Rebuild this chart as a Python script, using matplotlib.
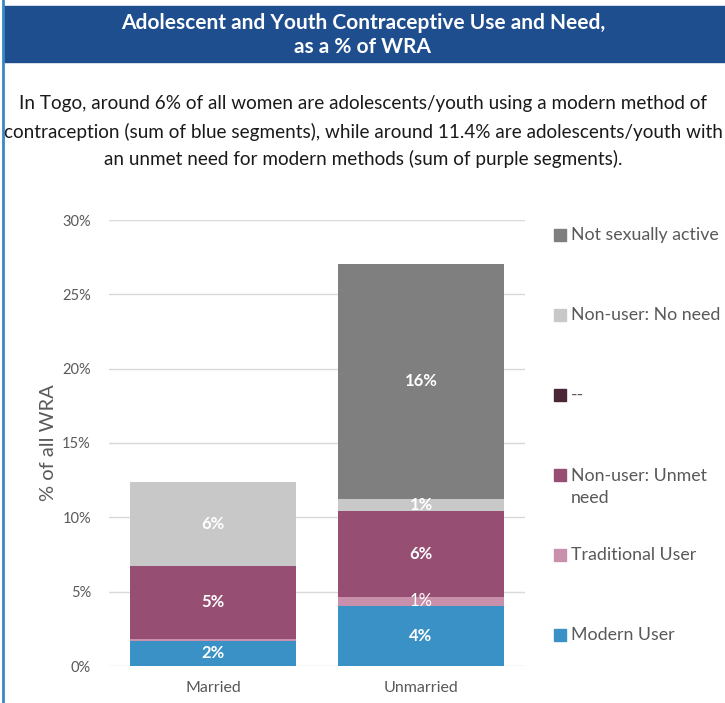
import matplotlib.pyplot as plt
from matplotlib.patches import Rectangle
import numpy as np

plt.rcParams['font.family'] = ['Lato', 'DejaVu Sans']

# Data (% of all WRA)
groups = ["Married", "Unmarried"]
modern_user = [1.7, 4.05]
traditional_user = [0.1, 0.6]
unmet_need = [4.95, 5.75]
dash_series = [0.0, 0.0]
no_need = [5.6, 0.85]
not_active = [0.0, 15.8]

series_names = ["Modern User", "Traditional User", "Non-user: Unmet\nneed", "--",
                "Non-user: No need", "Not sexually active"]
series_values = [modern_user, traditional_user, unmet_need, dash_series, no_need, not_active]
series_colors = ["#3A91C6", "#C890AA", "#964F72", "#4B2639", "#C8C8C8", "#7F7F7F"]
# labels shown in the bars
label_text = [["2%", "4%"], ["", "1%"], ["5%", "6%"], ["", ""], ["6%", "1%"], ["", "16%"]]
label_bold = [True, False, True, False, True, True]

W, H = 725, 703
fig = plt.figure(figsize=(W / 100, H / 100), dpi=100)

# header band and left border
fig.patches.append(Rectangle((3 / W, 1 - 62 / H), 1, 56 / H, transform=fig.transFigure,
                             color="#1F4E8F", zorder=0))
fig.add_artist(plt.Line2D([2.5 / W, 2.5 / W], [0, 1], color="#3A87C6", lw=2))
fig.text(363 / W, 1 - 23 / H, "Adolescent and Youth Contraceptive Use and Need,",
         ha="center", va="center", color="white", fontsize=15, fontweight="bold")
fig.text(363 / W, 1 - 47 / H, "as a % of WRA",
         ha="center", va="center", color="white", fontsize=15, fontweight="bold")

subtitle = ["In Togo, around 6% of all women are adolescents/youth using a modern method of",
            "contraception (sum of blue segments), while around 11.4% are adolescents/youth with",
            "an unmet need for modern methods (sum of purple segments)."]
for i, line in enumerate(subtitle):
    fig.text(363 / W, 1 - (104 + 27.5 * i) / H, line, ha="center", va="center",
             color="#1a1a1a", fontsize=13.6)

ax = fig.add_axes([109 / W, 37 / H, 416 / W, 446 / H])
x = np.arange(len(groups))
bottom = np.zeros(len(groups))
for vals, col, labs, bold in zip(series_values, series_colors, label_text, label_bold):
    vals = np.array(vals)
    ax.bar(x, vals, 0.8, bottom=bottom, color=col, zorder=3)
    for xi, v, b, t in zip(x, vals, bottom, labs):
        if t:
            ax.text(xi, b + v / 2, t, ha="center", va="center", color="white",
                    fontsize=12, fontweight="bold" if bold else "normal", zorder=4)
    bottom += vals

ax.set_xlim(-0.5, 1.5)
ax.set_ylim(0, 30)
ax.set_yticks(range(0, 31, 5))
ax.set_yticklabels([f"{v}%" for v in range(0, 31, 5)])
ax.set_xticks(x)
ax.set_xticklabels(groups)
ax.grid(axis="y", color="#D9D9D9", lw=1, zorder=0)
for s in ax.spines.values():
    s.set_visible(False)
ax.tick_params(length=0, colors="#595959", labelsize=10.5)
ax.tick_params(axis="y", pad=13)
ax.tick_params(axis="x", pad=11, labelsize=11.5)
ax.set_ylabel("% of all WRA", fontsize=14.5, color="#595959", labelpad=4)

# legend (top to bottom)
leg_y = [235, 315, 395, 487, 555, 635]
for name, col, yy in zip(series_names[::-1], series_colors[::-1], leg_y):
    top_line = yy - 12 if "\n" in name else yy
    fig.patches.append(Rectangle((554 / W, 1 - (top_line + 6) / H), 12 / W, 12 / H,
                                 transform=fig.transFigure, color=col))
    fig.text(571 / W, 1 - yy / H, name, ha="left", va="center", color="#595959",
             fontsize=12.8, linespacing=1.45)

fig.savefig("out.png", dpi=100)
